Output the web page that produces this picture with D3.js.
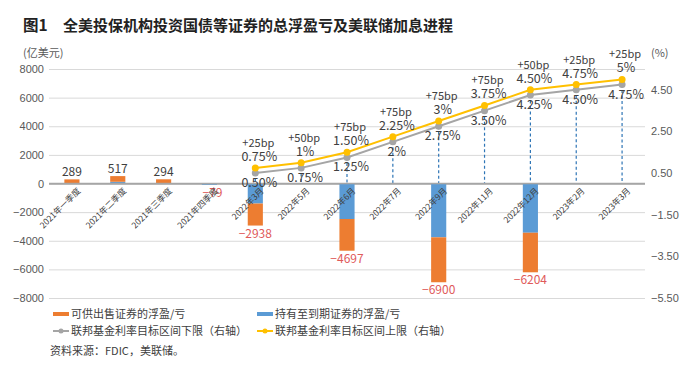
<!DOCTYPE html>
<html>
<head>
<meta charset="utf-8">
<script src="https://cdn.jsdelivr.net/npm/d3@7"></script>
<style>
  body { margin: 0; background: #fff; }
  svg { font-family: "Noto Sans CJK SC", "Noto Sans", sans-serif; }
  .tick-l, .tick-r { font-size: 11px; fill: #595959; }
  .cat { font-size: 8.5px; fill: #404040; }
  .val { font-size: 12px; fill: #404040; }
  .neg { font-size: 12px; fill: #e05a5a; }
  .rate { font-size: 12.5px; fill: #404040; }
  .bp { font-size: 11px; fill: #404040; }
  .legend { font-size: 11px; fill: #404040; }
</style>
</head>
<body>
<svg></svg>
<script>
const categories = ["2021年一季度", "2021年二季度", "2021年三季度", "2021年四季度", "2022年3月", "2022年5月",
  "2022年6月", "2022年7月", "2022年9月", "2022年11月", "2022年12月", "2023年2月", "2023年3月"]

// 可供出售 (orange) and 持有至到期 (blue), 亿美元
const afsValues = [289, 397, 294, 0, -1538, null, -2217, null, -3140, null, -2764, null, null]
const htmValues = [0, 120, 0, -79, -1400, null, -2480, null, -3760, null, -3440, null, null]
const totalLabels = [289, 517, 294, -79, -2938, null, -4697, null, -6900, null, -6204, null, null]

// fed funds target range, %
const upperRate = [null, null, null, null, 0.75, 1, 1.5, 2.25, 3, 3.75, 4.5, 4.75, 5]
const lowerRate = [null, null, null, null, 0.5, 0.75, 1.25, 2, 2.75, 3.5, 4.25, 4.5, 4.75]
const upperText = [null, null, null, null, "0.75%", "1%", "1.50%", "2.25%", "3%", "3.75%", "4.50%", "4.75%", "5%"]
const lowerText = [null, null, null, null, "0.50%", "0.75%", "1.25%", "2%", "2.75%", "3.50%", "4.25%", "4.50%", "4.75%"]
const hikeText = [null, null, null, null, "+25bp", "+50bp", "+75bp", "+75bp", "+75bp", "+75bp", "+50bp", "+25bp", "+25bp"]

const leftTicks = [-8000, -6000, -4000, -2000, 0, 2000, 4000, 6000, 8000]
const rightTicks = [-5.5, -3.5, -1.5, 0.5, 2.5, 4.5]

const svg = d3.select("svg")
  .attr("width", 700)
  .attr("height", 373)

const x = d3.scaleBand()
  .domain(categories)
  .range([49, 645])
  .paddingInner(0.67)
  .paddingOuter(0.335)

const y = d3.scaleLinear().domain([-8000, 8000]).range([298, 69])
const y2 = d3.scaleLinear().domain([-5.5, 5.5]).range([298, 69])

const cx = d => x(d) + x.bandwidth() / 2
const minus = s => String(s).replace("-", "−")

// title
svg.append("text")
  .attr("x", 23).attr("y", 31)
  .style("font-size", "15.5px").style("font-weight", "bold").style("fill", "#222")
  .text("图1")
svg.append("text")
  .attr("x", 63).attr("y", 31)
  .style("font-size", "15px").style("font-weight", "bold").style("fill", "#222")
  .text("全美投保机构投资国债等证券的总浮盈亏及美联储加息进程")

svg.append("text").attr("x", 23).attr("y", 57).attr("class", "tick-l").text("(亿美元)")
svg.append("text").attr("x", 651).attr("y", 57).attr("class", "tick-r").text("(%)")

// grid + left axis
svg.append("g")
  .attr("transform", "translate(49,0)")
  .call(d3.axisLeft(y).tickValues(leftTicks).tickSize(-596).tickFormat(d => minus(d)))
  .call(g => g.select(".domain").remove())
  .call(g => g.selectAll("line").attr("stroke", d => d === 0 ? "#a6a6a6" : "#d9d9d9").attr("stroke-width", d => d === 0 ? 1.6 : 1))
  .call(g => g.selectAll("text").attr("class", "tick-l").attr("x", -5).style("font-size", null).style("font-family", null))

// right axis labels
svg.append("g")
  .attr("transform", "translate(645,0)")
  .call(d3.axisRight(y2).tickValues(rightTicks).tickSize(0).tickFormat(d => minus(d3.format(".2f")(d))))
  .call(g => g.select(".domain").remove())
  .call(g => g.selectAll("text").attr("class", "tick-r").attr("x", 6).style("font-size", null).style("font-family", null))

// dashed drop lines
svg.selectAll("line.drop")
  .data(categories.filter((c, i) => lowerRate[i] != null))
  .enter()
  .append("line")
  .attr("class", "drop")
  .attr("x1", d => cx(d)).attr("x2", d => cx(d))
  .attr("y1", d => y2(lowerRate[categories.indexOf(d)]))
  .attr("y2", y(0))
  .attr("stroke", "#2e75b6").attr("stroke-width", 1.2).attr("stroke-dasharray", "3,2.5")

// stacked bars: blue next to zero, orange beyond
const barData = categories.map((c, i) => {
  const h = htmValues[i] || 0, a = afsValues[i] || 0
  return { c, h, a }
})

svg.selectAll("rect.htm")
  .data(barData.filter(d => d.h !== 0))
  .enter()
  .append("rect")
  .attr("class", "htm")
  .attr("x", d => x(d.c))
  .attr("width", x.bandwidth())
  .attr("y", d => y(Math.max(0, d.h)))
  .attr("height", d => Math.max(1.2, Math.abs(y(d.h) - y(0))))
  .attr("fill", "#5b9bd5")

svg.selectAll("rect.afs")
  .data(barData.filter(d => d.a !== 0))
  .enter()
  .append("rect")
  .attr("class", "afs")
  .attr("x", d => x(d.c))
  .attr("width", x.bandwidth())
  .attr("y", d => d.a > 0 ? y(d.a + Math.max(0, d.h)) : y(Math.min(0, d.h)))
  .attr("height", d => Math.abs(y(d.a) - y(0)))
  .attr("fill", "#ed7d31")

// zero line on top of bars
svg.append("line")
  .attr("x1", 49).attr("x2", 645).attr("y1", y(0)).attr("y2", y(0))
  .attr("stroke", "#a6a6a6").attr("stroke-width", 1.6)

// total labels
svg.selectAll("text.total")
  .data(categories.filter((c, i) => totalLabels[i] != null))
  .enter()
  .append("text")
  .attr("class", d => totalLabels[categories.indexOf(d)] < 0 ? "neg" : "val")
  .attr("text-anchor", "middle")
  .attr("x", d => cx(d) + (totalLabels[categories.indexOf(d)] === -79 ? 3 : 0))
  .attr("y", d => {
    const v = totalLabels[categories.indexOf(d)]
    return v < 0 ? y(v) + 12 : y(v) - 3
  })
  .text(d => minus(totalLabels[categories.indexOf(d)]))

// category labels
svg.selectAll("text.cat")
  .data(categories)
  .enter()
  .append("text")
  .attr("class", "cat")
  .attr("text-anchor", "end")
  .attr("transform", d => `translate(${cx(d) + 9},${y(0) + 8}) rotate(-45)`)
  .text(d => d)

// rate lines
const rateIdx = categories.map((c, i) => i).filter(i => upperRate[i] != null)

const line = arr => d3.line()
  .x(i => cx(categories[i]))
  .y(i => y2(arr[i]))(rateIdx)

svg.append("path").attr("d", line(lowerRate)).attr("fill", "none").attr("stroke", "#a5a5a5").attr("stroke-width", 2)
svg.append("path").attr("d", line(upperRate)).attr("fill", "none").attr("stroke", "#ffc000").attr("stroke-width", 2)

svg.selectAll("circle.lo")
  .data(rateIdx)
  .enter()
  .append("circle")
  .attr("cx", i => cx(categories[i])).attr("cy", i => y2(lowerRate[i]))
  .attr("r", 3.5).attr("fill", "#a5a5a5")

svg.selectAll("circle.hi")
  .data(rateIdx)
  .enter()
  .append("circle")
  .attr("cx", i => cx(categories[i])).attr("cy", i => y2(upperRate[i]))
  .attr("r", 3.5).attr("fill", "#ffc000")

// rate labels
svg.selectAll("text.lo")
  .data(rateIdx)
  .enter()
  .append("text")
  .attr("class", "rate")
  .attr("text-anchor", "middle")
  .attr("x", i => cx(categories[i]) + 4).attr("y", i => y2(lowerRate[i]) + 14)
  .text(i => lowerText[i])

svg.selectAll("text.hi")
  .data(rateIdx)
  .enter()
  .append("text")
  .attr("class", "rate")
  .attr("text-anchor", "middle")
  .attr("x", i => cx(categories[i]) + 4).attr("y", i => y2(upperRate[i]) - 7)
  .text(i => upperText[i])

svg.selectAll("text.bp")
  .data(rateIdx)
  .enter()
  .append("text")
  .attr("class", "bp")
  .attr("text-anchor", "middle")
  .attr("x", i => cx(categories[i]) + 3).attr("y", i => y2(upperRate[i]) - 21)
  .text(i => hikeText[i])

// legend
const legendItems = [
  { label: "可供出售证券的浮盈/亏", color: "#ed7d31", dot: false, x: 53, y: 314 },
  { label: "持有至到期证券的浮盈/亏", color: "#5b9bd5", dot: false, x: 257, y: 314 },
  { label: "联邦基金利率目标区间下限（右轴）", color: "#a5a5a5", dot: true, x: 53, y: 331 },
  { label: "联邦基金利率目标区间上限（右轴）", color: "#ffc000", dot: true, x: 257, y: 331 }
]

const legend = svg.selectAll("g.legend")
  .data(legendItems)
  .enter()
  .append("g")
  .attr("transform", d => `translate(${d.x},${d.y})`)

legend.append("line")
  .attr("x1", 0).attr("x2", 16).attr("y1", 0).attr("y2", 0)
  .attr("stroke", d => d.color).attr("stroke-width", d => d.dot ? 2 : 4)

legend.filter(d => d.dot)
  .append("circle")
  .attr("cx", 8).attr("cy", 0).attr("r", 2.5)
  .attr("fill", d => d.color)

legend.append("text")
  .attr("class", "legend")
  .attr("x", 18).attr("y", 4)
  .text(d => d.label)

svg.append("text")
  .attr("class", "legend")
  .attr("x", 50).attr("y", 355)
  .text("资料来源：FDIC，美联储。")
</script>
</body>
</html>
